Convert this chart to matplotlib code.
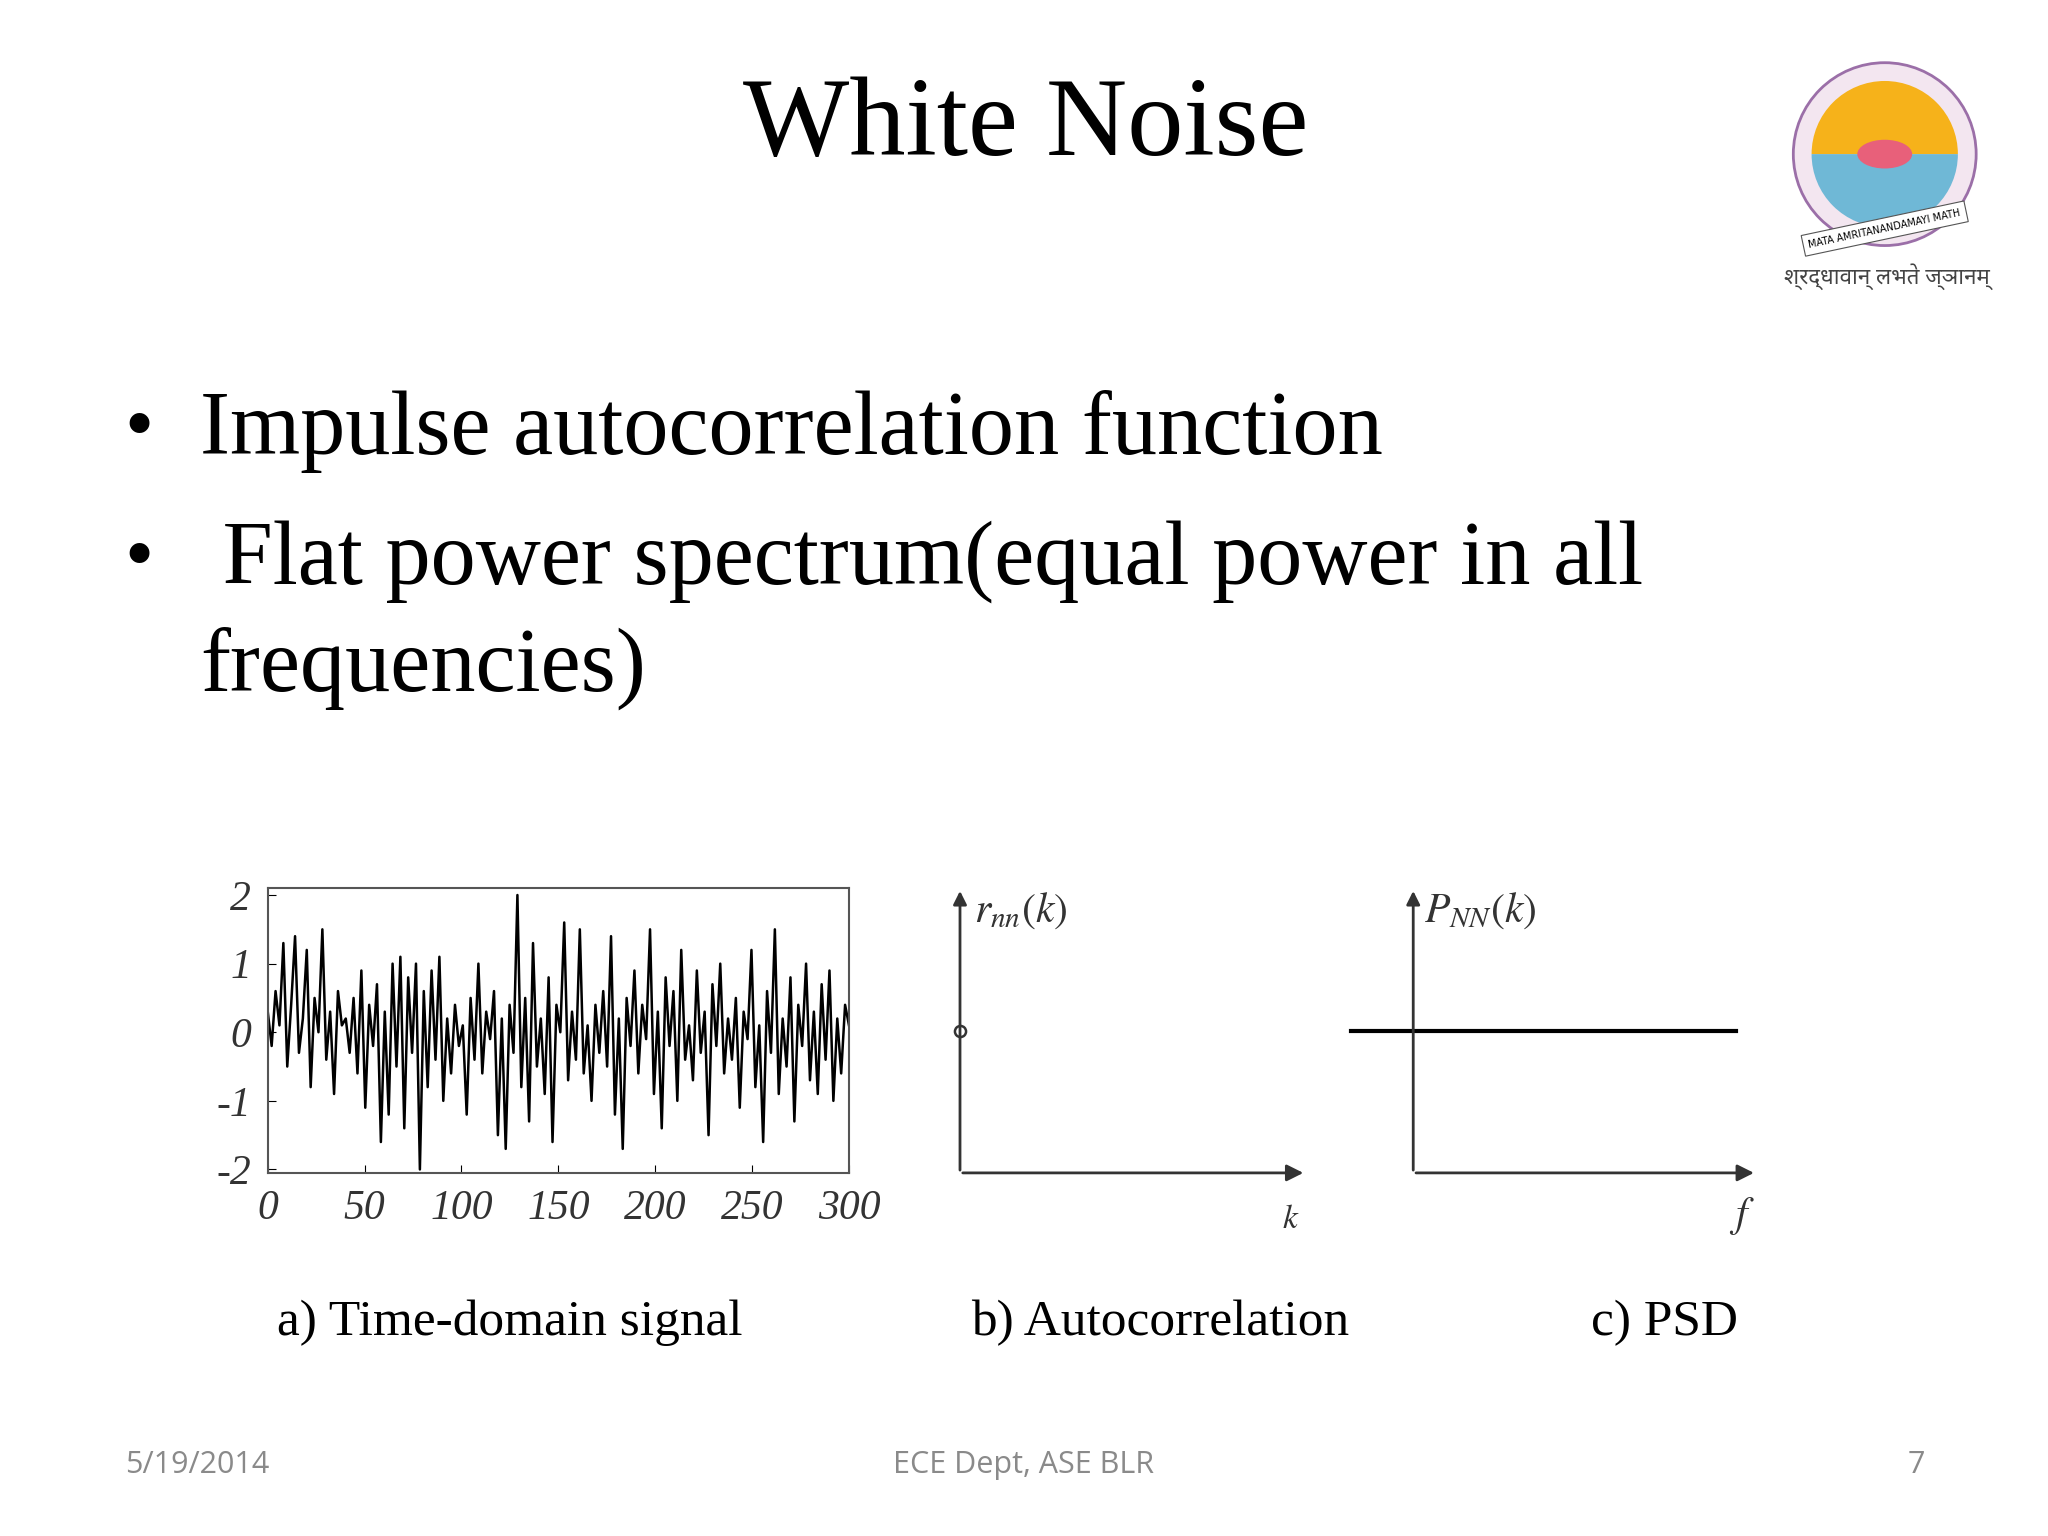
import matplotlib
matplotlib.use("Agg")
import matplotlib.pyplot as plt
from matplotlib.patches import Circle, Wedge, Ellipse

plt.rcParams["axes.unicode_minus"] = False
plt.rcParams["mathtext.fontset"] = "stix"

# ---- data ----
noise_values = [0.3, -0.2, 0.6, 0.1, 1.3, -0.5, 0.4, 1.4, -0.3, 0.2, 1.2, -0.8, 0.5, 0.0, 1.5, -0.4,
                0.3, -0.9, 0.6, 0.1, 0.2, -0.3, 0.5, -0.6, 0.9, -1.1, 0.4, -0.2, 0.7, -1.6, 0.3, -1.2,
                1.0, -0.5, 1.1, -1.4, 0.8, -0.3, 1.0, -2.0, 0.6, -0.8, 0.9, -0.4, 1.1, -1.0, 0.2, -0.6,
                0.4, -0.2, 0.1, -1.2, 0.5, -0.4, 1.0, -0.6, 0.3, -0.1, 0.6, -1.5, 0.2, -1.7, 0.4, -0.3,
                2.0, -0.8, 0.5, -1.3, 1.3, -0.5, 0.2, -0.9, 0.8, -1.6, 0.4, 0.0, 1.6, -0.7, 0.3, -0.4,
                1.5, -0.6, 0.1, -1.0, 0.4, -0.3, 0.6, -0.5, 1.4, -1.2, 0.2, -1.7, 0.5, -0.2, 0.9, -0.6,
                0.4, -0.1, 1.5, -0.9, 0.3, -1.4, 0.8, -0.2, 0.6, -1.0, 1.2, -0.4, 0.1, -0.7, 0.9, -0.3,
                0.3, -1.5, 0.7, -0.2, 1.0, -0.6, 0.2, -0.4, 0.5, -1.1, 0.3, -0.1, 1.2, -0.8, 0.1, -1.6,
                0.6, -0.3, 1.5, -0.9, 0.2, -0.5, 0.8, -1.3, 0.4, -0.2, 1.0, -0.7, 0.3, -0.9, 0.7, -0.4,
                0.9, -1.0, 0.2, -0.6, 0.4, 0.1]
time_ticks = [0, 50, 100, 150, 200, 250, 300]
amp_ticks = [-2, -1, 0, 1, 2]
captions = ["a) Time-domain signal", "b) Autocorrelation", "c) PSD"]
bullets = ["Impulse autocorrelation function", " Flat power spectrum(equal power in all", "frequencies)"]

serif = "Liberation Serif"
W, H = 1568, 1176
fig = plt.figure(figsize=(20.48, 15.36), dpi=100)
bg = fig.add_axes([0, 0, 1, 1])
bg.set_xlim(0, W); bg.set_ylim(H, 0); bg.axis("off")

def fx(x): return x / W
def fy(y): return 1 - y / H

# title and bullets
bg.text(785, 98, "White Noise", ha="center", va="center", fontsize=81, family=serif)
bg.text(95, 330, "•", ha="left", va="center", fontsize=60, family=serif)
bg.text(95, 430, "•", ha="left", va="center", fontsize=60, family=serif)
bg.text(153, 330, bullets[0], ha="left", va="center", fontsize=65, family=serif)
bg.text(153, 430, bullets[1], ha="left", va="center", fontsize=65, family=serif)
bg.text(153, 512, bullets[2], ha="left", va="center", fontsize=65, family=serif)

# captions
for x, c in zip([390, 888, 1274], captions):
    bg.text(x, 1013, c, ha="center", va="center", fontsize=37, family=serif)

# footer
ft = dict(ha="center", va="center", fontsize=22, color="#8a8a8a", family="Open Sans")
bg.text(151, 1122, "5/19/2014", **ft)
bg.text(784, 1122, "ECE Dept, ASE BLR", **ft)
bg.text(1467, 1122, "7", **ft)

# logo
bg.add_patch(Circle((1443, 118), 70, facecolor="#f3e6f0", edgecolor="#9b6fa8", lw=2))
bg.add_patch(Wedge((1443, 118), 56, 180, 360, facecolor="#f6b21a", edgecolor="none"))
bg.add_patch(Wedge((1443, 118), 56, 0, 180, facecolor="#6fb8d6", edgecolor="none"))
bg.add_patch(Ellipse((1443, 118), 42, 22, facecolor="#e8607a", edgecolor="none"))
bg.text(1443, 175, "MATA AMRITANANDAMAYI MATH", ha="center", va="center", fontsize=7, rotation=12,
        bbox=dict(facecolor="white", edgecolor="#555", lw=0.8))
bg.text(1445, 212, "श्रद्धावान् लभते ज्ञानम्", ha="center", va="center", fontsize=16,
        family=["Noto Sans", "DejaVu Sans"], color="#444")

# (a) time-domain signal
ax = fig.add_axes([fx(205), fy(898), fx(650) - fx(205), fy(680) - fy(898)])
t = [i * 300 / (len(noise_values) - 1) for i in range(len(noise_values))]
ax.plot(t, noise_values, color="black", lw=1.8)
ax.set_xlim(0, 300); ax.set_ylim(-2.05, 2.1)
ax.set_xticks(time_ticks); ax.set_yticks(amp_ticks)
ax.tick_params(labelsize=30, direction="in", length=6, pad=12)
for lab in ax.get_xticklabels() + ax.get_yticklabels():
    lab.set_family(serif); lab.set_style("italic"); lab.set_color("#333")
for s in ax.spines.values():
    s.set_color("#555"); s.set_linewidth(1.5)

# (b) autocorrelation
axb = fig.add_axes([fx(735), fy(898), fx(1000) - fx(735), fy(680) - fy(898)])
axb.axis("off"); axb.set_xlim(0, 10); axb.set_ylim(0, 2)
axb.annotate("", xy=(10, 0), xytext=(0, 0), arrowprops=dict(arrowstyle="-|>", lw=2, color="#333", mutation_scale=25))
axb.annotate("", xy=(0, 2), xytext=(0, 0), arrowprops=dict(arrowstyle="-|>", lw=2, color="#333", mutation_scale=20))
axb.plot([0], [1], marker="o", ms=8, mfc="white", mec="#333", mew=1.8, clip_on=False)
axb.text(0.4, 1.85, r"$r_{nn}(k)$", fontsize=30, va="center", color="#333")
axb.text(9.3, -0.32, r"$k$", fontsize=24, va="center", color="#333")

# (c) PSD
axc = fig.add_axes([fx(1082), fy(898), fx(1345) - fx(1082), fy(680) - fy(898)])
axc.axis("off"); axc.set_xlim(0, 10); axc.set_ylim(0, 2)
axc.annotate("", xy=(10, 0), xytext=(0, 0), arrowprops=dict(arrowstyle="-|>", lw=2, color="#333", mutation_scale=25))
axc.annotate("", xy=(0, 2), xytext=(0, 0), arrowprops=dict(arrowstyle="-|>", lw=2, color="#333", mutation_scale=20))
axc.plot([-1.8, 9.4], [1, 1], color="black", lw=3, clip_on=False)
axc.text(0.3, 1.85, r"$P_{NN}(k)$", fontsize=30, va="center", color="#333")
axc.text(9.2, -0.3, r"$f$", fontsize=30, va="center", color="#333")

fig.savefig("out.png", dpi=100, facecolor="white")
